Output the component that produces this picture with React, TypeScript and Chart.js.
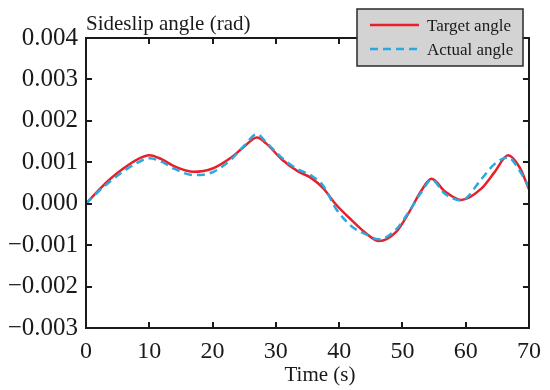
import React, { useEffect, useRef } from "react";
import { Chart, registerables } from "chart.js";

Chart.register(...registerables);

const timeS = [0, 2, 4, 6, 8, 10, 12, 14, 17, 20, 23, 25, 27, 28.5, 31, 33.5, 35.5, 37.5, 39.5, 42, 44, 46.3, 49, 51, 53, 54.6, 56.7, 59.3, 62.5, 64.5, 66.7, 68.5, 70];

const targetAngle = [0, 0.00033, 0.00062, 0.00086, 0.00106, 0.00117, 0.00107, 0.0009, 0.00077, 0.00085, 0.00112, 0.00138, 0.0016, 0.00145, 0.00106, 0.00078, 0.00063, 0.00037, -0.00002, -0.0004, -0.00068, -0.0009, -0.00068, -0.00022, 0.00032, 0.0006, 0.0003, 0.00009, 0.00037, 0.00075, 0.00117, 0.00088, 0.00035];

const actualAngle = [0, 0.0003, 0.00056, 0.00079, 0.00098, 0.0011, 0.00101, 0.00084, 0.00069, 0.00076, 0.00108, 0.0014, 0.00168, 0.00148, 0.0011, 0.00083, 0.00069, 0.00043, -0.00012, -0.00055, -0.00072, -0.00086, -0.00062, -0.0002, 0.00028, 0.00058, 0.00024, 0.00008, 0.0006, 0.00095, 0.00112, 0.0008, 0.0004];

const xTicks = { min: 0, max: 70, step: 10 };
const yTicks = { min: -0.003, max: 0.004, step: 0.001 };

const yTitle = "Sideslip angle (rad)";
const xTitle = "Time (s)";
const seriesNames = ["Target angle", "Actual angle"];

const SERIF = "'Liberation Serif', 'Times New Roman', serif";
const RED = "#e8202a";
const BLUE = "#2aa9e0";
const INK = "#1a1a1a";

const decorPlugin = {
  id: "decor",
  afterDatasetsDraw(chart: any) {
    const { ctx, chartArea: a, scales } = chart;
    ctx.save();
    ctx.strokeStyle = INK;
    ctx.lineWidth = 2;
    ctx.strokeRect(a.left, a.top, a.right - a.left, a.bottom - a.top);
    const L = 6;
    ctx.beginPath();
    scales.x.ticks.forEach((t: any) => {
      const px = Math.round(scales.x.getPixelForValue(t.value));
      ctx.moveTo(px, a.bottom);
      ctx.lineTo(px, a.bottom - L);
      ctx.moveTo(px, a.top);
      ctx.lineTo(px, a.top + L);
    });
    scales.y.ticks.forEach((t: any) => {
      const py = Math.round(scales.y.getPixelForValue(t.value));
      ctx.moveTo(a.left, py);
      ctx.lineTo(a.left + L, py);
      ctx.moveTo(a.right, py);
      ctx.lineTo(a.right - L, py);
    });
    ctx.stroke();
    ctx.restore();
  },
  afterDraw(chart: any) {
    const { ctx, chartArea: a } = chart;
    ctx.save();
    ctx.fillStyle = INK;
    ctx.textBaseline = "alphabetic";
    ctx.font = `21px ${SERIF}`;
    ctx.textAlign = "left";
    ctx.fillText(yTitle, a.left, 30);
    ctx.textAlign = "center";
    ctx.fillText(xTitle, 320, 381);

    // legend
    const bx = 357, by = 9, bw = 166, bh = 57;
    ctx.fillStyle = "#d3d3d3";
    ctx.fillRect(bx, by, bw, bh);
    ctx.strokeStyle = "#2a2a2a";
    ctx.lineWidth = 1.5;
    ctx.strokeRect(bx, by, bw, bh);
    const ds = chart.data.datasets;
    const rows = [25, 49];
    ds.forEach((d: any, i: number) => {
      const y = rows[i];
      ctx.beginPath();
      ctx.strokeStyle = d.borderColor;
      ctx.lineWidth = d.borderWidth;
      ctx.setLineDash(d.borderDash || []);
      ctx.moveTo(370, y);
      ctx.lineTo(419, y);
      ctx.stroke();
      ctx.setLineDash([]);
      ctx.fillStyle = INK;
      ctx.font = `17px ${SERIF}`;
      ctx.textAlign = "left";
      ctx.textBaseline = "alphabetic";
      ctx.fillText(d.label, 427, y + 6);
    });
    ctx.restore();
  },
};

function fmtY(v: number) {
  const r = Math.round(v * 1e6) / 1e6;
  return (r < 0 ? "\u2212" : "") + Math.abs(r).toFixed(3);
}

export default function App() {
  const ref = useRef<HTMLCanvasElement | null>(null);
  useEffect(() => {
    document.body.style.margin = "0";
    if (!ref.current) return;
    const chart = new Chart(ref.current, {
      type: "line",
      data: {
        datasets: [
          {
            label: seriesNames[0],
            data: timeS.map((t, i) => ({ x: t, y: targetAngle[i] })),
            borderColor: RED,
            borderWidth: 2.5,
            pointRadius: 0,
            cubicInterpolationMode: "monotone",
            fill: false,
            order: 2,
          },
          {
            label: seriesNames[1],
            data: timeS.map((t, i) => ({ x: t, y: actualAngle[i] })),
            borderColor: BLUE,
            borderWidth: 2.5,
            borderDash: [8, 5],
            pointRadius: 0,
            cubicInterpolationMode: "monotone",
            fill: false,
            order: 1,
          },
        ],
      },
      options: {
        animation: false,
        responsive: false,
        maintainAspectRatio: false,
        layout: { padding: { top: 38, right: 19, left: 0, bottom: 0 } },
        plugins: { legend: { display: false }, tooltip: { enabled: false }, title: { display: false } },
        scales: {
          x: {
            type: "linear",
            min: xTicks.min,
            max: xTicks.max,
            grid: { display: false, drawTicks: false },
            border: { display: false },
            ticks: { stepSize: xTicks.step, padding: 9, color: INK, font: { family: SERIF, size: 24 }, maxRotation: 0 },
            afterFit: (s: any) => { s.height = 62; },
          },
          y: {
            type: "linear",
            min: yTicks.min,
            max: yTicks.max,
            grid: { display: false, drawTicks: false },
            border: { display: false },
            ticks: { stepSize: yTicks.step, padding: 8, color: INK, font: { family: SERIF, size: 25 }, callback: (v: any) => fmtY(Number(v)) },
            afterFit: (s: any) => { s.width = 86; },
          },
        },
      },
      plugins: [decorPlugin],
    } as any);
    return () => chart.destroy();
  }, []);
  return (
    <div style={{ width: 550, height: 390 }}>
      <canvas ref={ref} width={550} height={390} />
    </div>
  );
}
